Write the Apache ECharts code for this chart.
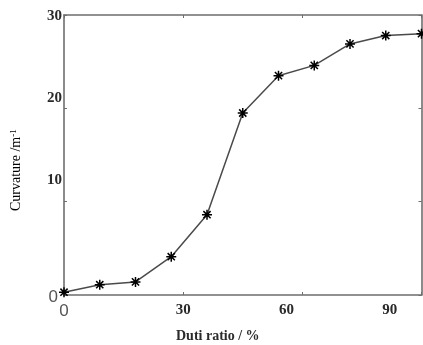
<!DOCTYPE html>
<html>
<head>
<meta charset="utf-8">
<script src="https://cdn.jsdelivr.net/npm/echarts@6/dist/echarts.min.js"></script>
<style>
    html, body { margin: 0; padding: 0; background: #fff; }
    #chart { width: 423px; height: 345px; }
</style>
</head>
<body>
<div id="chart"></div>
<script>
    // data
    var dutyRatio = [0, 9, 18, 27, 36, 45, 54, 63, 72, 81, 90];
    var curvature = [0.3, 1.1, 1.4, 4.1, 8.6, 19.5, 23.5, 24.6, 26.9, 27.8, 28.0];

    // tick labels (the printed labels sit a little off the tick marks)
    var xTickLabels = ['0', '30', '60', '90'];
    var xLabelAt = [0, 30, 56, 82];
    var yTickLabels = ['0', '10', '20', '30'];
    var yLabelAt = [0, 12.3, 21.1, 29.9];

    var frame = '#6e6e6e';
    var serif = '"Liberation Serif", "DejaVu Serif", serif';

    var chart = echarts.init(document.getElementById('chart'));

    function pick(labels, at) {
        return function (v) {
            var i = at.indexOf(v);
            var t = i < 0 ? '' : labels[i];
            return t === '0' ? '{z|0}' : '{n|' + t + '}';
        };
    }

    function frameAxis(pos, max, interval) {
        return {
            type: 'value', position: pos, min: 0, max: max, interval: interval,
            axisLine: {show: true, onZero: false, lineStyle: {color: frame, width: 1.6}},
            axisTick: {show: true, inside: true, length: 3, lineStyle: {color: frame}},
            axisLabel: {show: false}, splitLine: {show: false}
        };
    }

    var option = {
        animation: false,
        grid: {left: 64, right: 1.5, top: 15, bottom: 50},
        xAxis: [{
            type: 'value', min: 0, max: 90, interval: 30,
            axisLine: {show: true, onZero: false, lineStyle: {color: frame, width: 1.6}},
            axisTick: {show: true, inside: true, length: 3, lineStyle: {color: frame}},
            splitLine: {show: false},
            axisLabel: {
                customValues: xLabelAt, margin: 8,
                formatter: pick(xTickLabels, xLabelAt),
                rich: {
                    n: {fontFamily: serif, fontWeight: 'bold', fontSize: 15, color: '#2a2a2a'},
                    z: {fontFamily: '"Liberation Sans", sans-serif', fontSize: 17, color: '#555'}
                }
            }
        }, frameAxis('top', 90, 30)],
        yAxis: [{
            type: 'value', min: 0, max: 30, interval: 10,
            axisLine: {show: true, onZero: false, lineStyle: {color: frame, width: 1.6}},
            axisTick: {show: true, inside: true, length: 3, lineStyle: {color: frame}},
            splitLine: {show: false},
            axisLabel: {
                customValues: yLabelAt, margin: 2,
                formatter: pick(yTickLabels, yLabelAt),
                rich: {
                    n: {fontFamily: serif, fontWeight: 'bold', fontSize: 15, color: '#2a2a2a'},
                    z: {fontFamily: '"Liberation Sans", sans-serif', fontSize: 17, color: '#555', padding: [4, 4, 0, 0]}
                }
            }
        }, frameAxis('right', 30, 10)],
        graphic: [{
            type: 'text', left: 176, top: 329,
            style: {text: 'Duti ratio / %', font: 'bold 14px ' + serif, fill: '#2a2a2a'}
        }, {
            type: 'text', x: 9, y: 211, rotation: Math.PI / 2,
            style: {
                text: '{a|Curvature /m}{s|-1}',
                rich: {
                    a: {fontFamily: serif, fontSize: 14, color: '#2a2a2a'},
                    s: {fontFamily: serif, fontSize: 9, color: '#2a2a2a', verticalAlign: 'top', padding: [0, 0, 6, 0]}
                }
            }
        }],
        series: [{
            type: 'line',
            data: dutyRatio.map(function (x, i) { return [x, curvature[i]]; }),
            clip: false,
            lineStyle: {color: '#4a4a4a', width: 1.5},
            symbol: 'path://M0,-5L0,5M-5,0L5,0M-3.6,-3.6L3.6,3.6M-3.6,3.6L3.6,-3.6',
            symbolSize: 10,
            itemStyle: {color: '#000', borderColor: '#000', borderWidth: 1.5}
        }]
    };

    chart.setOption(option);
</script>
</body>
</html>
